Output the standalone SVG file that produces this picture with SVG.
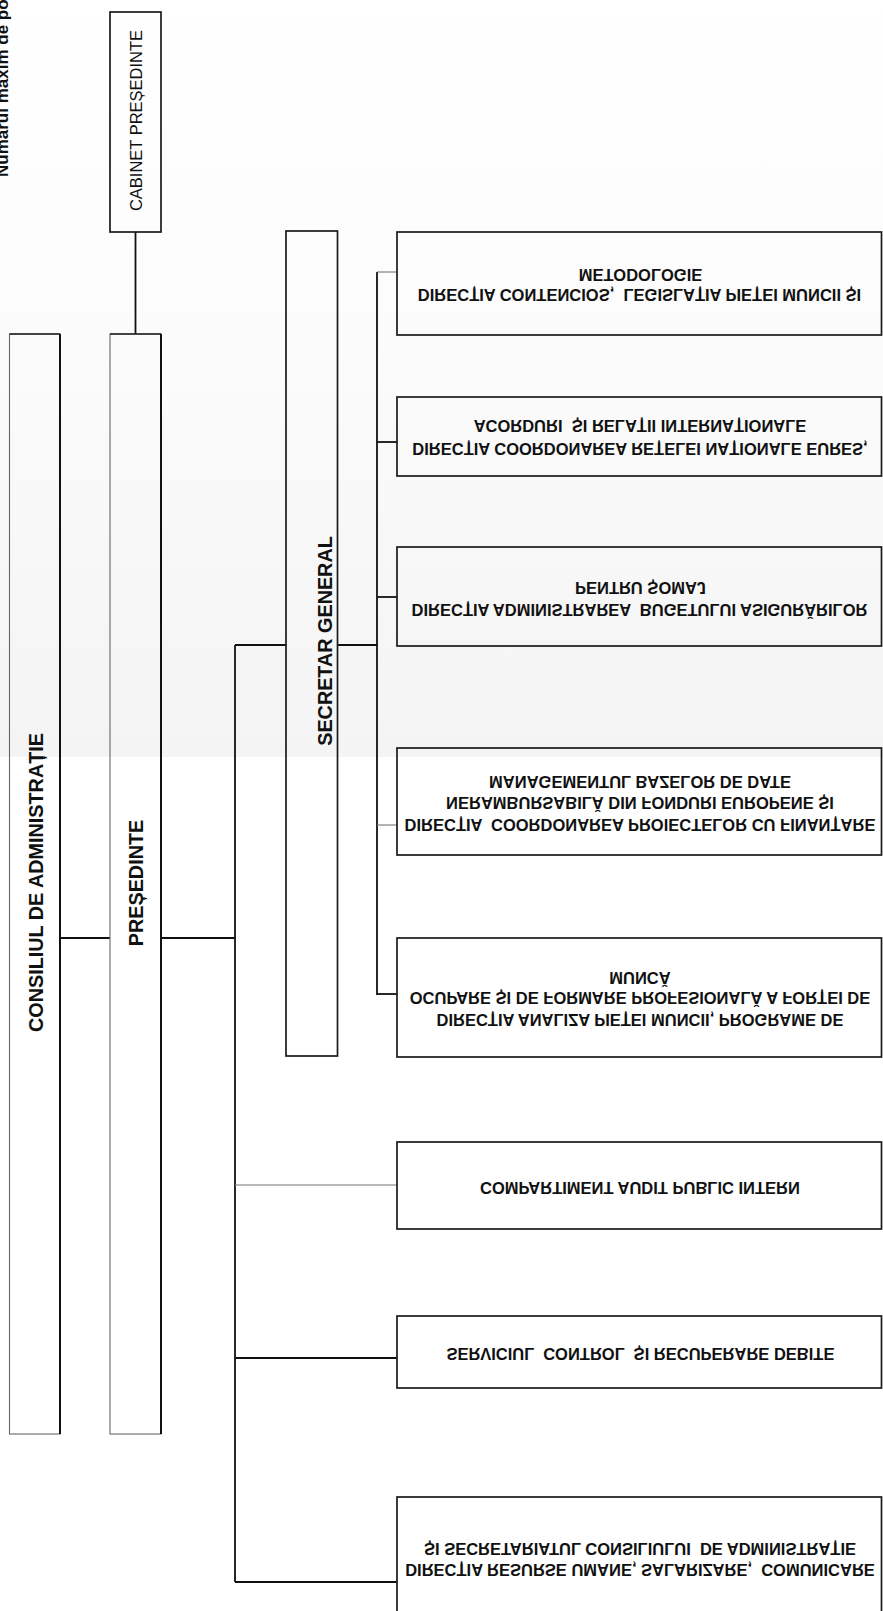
<svg xmlns="http://www.w3.org/2000/svg" width="883" height="1611" viewBox="0 0 883 1611">
<defs>
<linearGradient id="bg" x1="0" y1="0" x2="0" y2="1">
<stop offset="0" stop-color="#ffffff"/>
<stop offset="0.4" stop-color="#fcfcfc"/>
<stop offset="1" stop-color="#f4f4f4"/>
</linearGradient>
<style>
.box{fill:none;stroke:#1a1a1a;stroke-width:1.7}
.lbox{fill:none;stroke:#666;stroke-width:1.1}
.redge{stroke:#111;stroke-width:2}
.tedge{stroke:#222;stroke-width:1.5}
.ln{fill:none;stroke:#111;stroke-width:1.8}
.thin{fill:none;stroke:#777;stroke-width:1.1}
.t{font-family:"Liberation Sans",Arial,sans-serif;font-weight:bold;fill:#111}
.r{font-family:"Liberation Sans",Arial,sans-serif;font-weight:normal;fill:#111}
.d{font-family:"Liberation Sans",Arial,sans-serif;font-weight:bold;font-size:16.5px;fill:#111;text-anchor:middle}
</style>
</defs>
<rect x="0" y="0" width="883" height="1611" fill="#ffffff"/>
<rect x="0" y="0" width="883" height="757" fill="url(#bg)"/>

<text class="t" font-size="17" transform="translate(7.5,177) rotate(-90)">Numărul maxim de po</text>

<g id="connectors">
<path class="ln" d="M135.5 232 V334"/>
<path class="ln" d="M60 938 H110"/>
<path class="ln" d="M161 938 H235"/>
<path class="ln" d="M235 645 V1582"/>
<path class="ln" d="M235 645 H286"/>
<path class="thin" d="M235 1185 H397"/>
<path class="ln" d="M235 1358 H397"/>
<path class="ln" d="M235 1582 H397"/>
<path class="ln" d="M337.5 645 H377"/>
<path class="ln" d="M377 272 V995"/>
<path class="thin" d="M377 272 H397"/>
<path class="ln" d="M377 442 H397"/>
<path class="ln" d="M377 597 H397"/>
<path class="thin" d="M377 825 H397"/>
<path class="ln" d="M377 994 H397"/>
</g>

<g id="cabinet">
<rect class="box" x="110" y="12" width="51" height="220"/>
<text class="r" font-size="16.5" text-anchor="middle" transform="translate(141.5,120.5) rotate(-90)">CABINET PREȘEDINTE</text>
</g>

<g id="consiliul">
<rect class="lbox" x="9.5" y="334" width="50.5" height="1100"/>
<line class="tedge" x1="9.5" y1="334" x2="60" y2="334"/>
<line class="redge" x1="60" y1="334" x2="60" y2="1434"/>
<text class="t" font-size="19.8" text-anchor="middle" transform="translate(42.5,882.5) rotate(-90)">CONSILIUL DE ADMINISTRAȚIE</text>
</g>

<g id="presedinte">
<rect class="lbox" x="110" y="334" width="51" height="1100"/>
<line class="tedge" x1="110" y1="334" x2="161" y2="334"/>
<line class="redge" x1="161" y1="334" x2="161" y2="1434"/>
<text class="t" font-size="19.8" text-anchor="middle" transform="translate(142.5,883) rotate(-90)">PREȘEDINTE</text>
</g>

<g id="secretar">
<rect class="box" x="286" y="231" width="51.5" height="825"/>
<text class="t" font-size="19.8" text-anchor="middle" transform="translate(331.5,641) rotate(-90)">SECRETAR GENERAL</text>
</g>

<g id="d1">
<rect class="box" x="397" y="232" width="484.5" height="103"/>
<g transform="translate(639.5,288.5) scale(1,-1)">
<text class="d" x="0" y="0" xml:space="preserve">DIRECȚIA CONTENCIOS,  LEGISLAȚIA PIEȚEI MUNCII ȘI</text>
<text class="d" x="1" y="20">METODOLOGIE</text>
</g>
</g>

<g id="d2">
<rect class="box" x="397" y="397" width="484.5" height="79"/>
<g transform="translate(640,443) scale(1,-1)">
<text class="d" x="0" y="0">DIRECȚIA COORDONAREA REȚELEI NAȚIONALE EURES,</text>
<text class="d" x="0" y="23" xml:space="preserve">ACORDURI  ȘI RELAȚII INTERNAȚIONALE</text>
</g>
</g>

<g id="d3">
<rect class="box" x="397" y="547" width="484.5" height="99"/>
<g transform="translate(639.5,603.5) scale(1,-1)">
<text class="d" x="0" y="0" xml:space="preserve">DIRECȚIA ADMINISTRAREA  BUGETULUI ASIGURĂRILOR</text>
<text class="d" x="1" y="22">PENTRU ȘOMAJ</text>
</g>
</g>

<g id="d4">
<rect class="box" x="397" y="748" width="484.5" height="107"/>
<g transform="translate(640,818.5) scale(1,-1)">
<text class="d" x="0" y="0" xml:space="preserve">DIRECȚIA  COORDONAREA PROIECTELOR CU FINANȚARE</text>
<text class="d" x="0" y="21.5">NERAMBURSABILĂ DIN FONDURI EUROPENE ȘI</text>
<text class="d" x="0" y="43">MANAGEMENTUL BAZELOR DE DATE</text>
</g>
</g>

<g id="d5">
<rect class="box" x="397" y="938" width="484.5" height="119"/>
<g transform="translate(640,1013.5) scale(1,-1)">
<text class="d" x="0" y="0">DIRECȚIA ANALIZA PIEȚEI MUNCII, PROGRAME DE</text>
<text class="d" x="0" y="21.5">OCUPARE ȘI DE FORMARE PROFESIONALĂ A FORȚEI DE</text>
<text class="d" x="0" y="41.5">MUNCĂ</text>
</g>
</g>

<g id="d6">
<rect class="box" x="397" y="1142" width="484.5" height="87"/>
<g transform="translate(640,1182) scale(1,-1)">
<text class="d" x="0" y="0">COMPARTIMENT AUDIT PUBLIC INTERN</text>
</g>
</g>

<g id="d7">
<rect class="box" x="397" y="1316" width="484.5" height="72"/>
<g transform="translate(640.5,1347.5) scale(1,-1)">
<text class="d" x="0" y="0" xml:space="preserve">SERVICIUL  CONTROL  ȘI RECUPERARE DEBITE</text>
</g>
</g>

<g id="d8">
<rect class="box" x="397" y="1497" width="484.5" height="140"/>
<g transform="translate(640,1563.5) scale(1,-1)">
<text class="d" x="0" y="0" xml:space="preserve">DIRECȚIA RESURSE UMANE, SALARIZARE,  COMUNICARE</text>
<text class="d" x="0" y="21" xml:space="preserve">ȘI SECRETARIATUL CONSILIULUI  DE ADMINISTRAȚIE</text>
</g>
</g>
</svg>
